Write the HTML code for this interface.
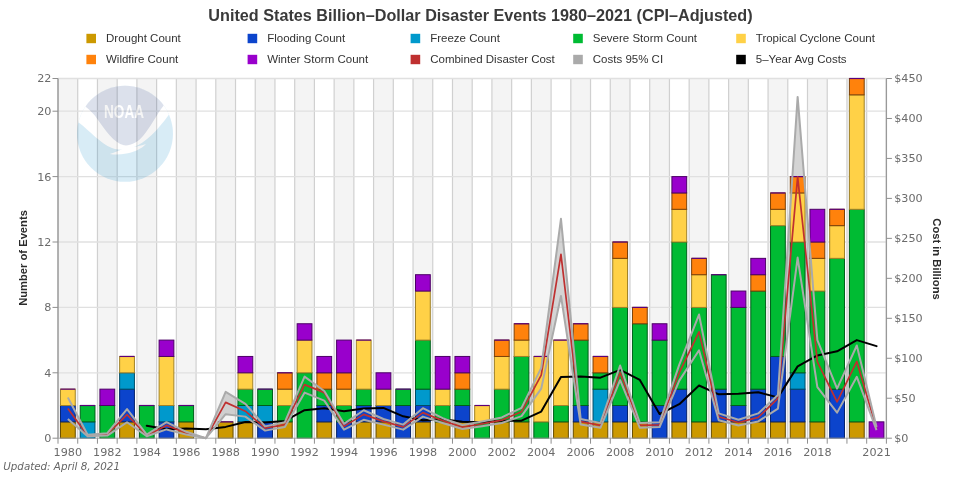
<!DOCTYPE html>
<html lang="en"><head><meta charset="utf-8"><title>United States Billion-Dollar Disaster Events 1980-2021 (CPI-Adjusted)</title>
<style>html,body{margin:0;padding:0;background:#fff;}body{width:960px;height:480px;overflow:hidden;}svg{display:block;filter:blur(0.3px);}text{font-family:"Liberation Sans","DejaVu Sans",sans-serif;}.tk text{font-family:"DejaVu Sans","Liberation Sans",sans-serif;font-size:11.2px;fill:#6b6b6b;}.lg text{font-size:11.5px;fill:#333;}.ax{font-size:11.2px;font-weight:bold;fill:#2b2b2b;}.tt{font-size:16.2px;font-weight:bold;fill:#3a3a3a;}</style></head><body>
<svg width="960" height="480" viewBox="0 0 960 480">
<rect x="0" y="0" width="960" height="480" fill="#ffffff"/>
<g id="bands">
<rect x="58" y="78.5" width="19.72" height="359.7" fill="#f4f4f4"/>
<rect x="97.45" y="78.5" width="19.72" height="359.7" fill="#f4f4f4"/>
<rect x="136.9" y="78.5" width="19.72" height="359.7" fill="#f4f4f4"/>
<rect x="176.34" y="78.5" width="19.72" height="359.7" fill="#f4f4f4"/>
<rect x="215.79" y="78.5" width="19.72" height="359.7" fill="#f4f4f4"/>
<rect x="255.24" y="78.5" width="19.72" height="359.7" fill="#f4f4f4"/>
<rect x="294.69" y="78.5" width="19.72" height="359.7" fill="#f4f4f4"/>
<rect x="334.13" y="78.5" width="19.72" height="359.7" fill="#f4f4f4"/>
<rect x="373.58" y="78.5" width="19.72" height="359.7" fill="#f4f4f4"/>
<rect x="413.03" y="78.5" width="19.72" height="359.7" fill="#f4f4f4"/>
<rect x="452.48" y="78.5" width="19.72" height="359.7" fill="#f4f4f4"/>
<rect x="491.92" y="78.5" width="19.72" height="359.7" fill="#f4f4f4"/>
<rect x="531.37" y="78.5" width="19.72" height="359.7" fill="#f4f4f4"/>
<rect x="570.82" y="78.5" width="19.72" height="359.7" fill="#f4f4f4"/>
<rect x="610.27" y="78.5" width="19.72" height="359.7" fill="#f4f4f4"/>
<rect x="649.71" y="78.5" width="19.72" height="359.7" fill="#f4f4f4"/>
<rect x="689.16" y="78.5" width="19.72" height="359.7" fill="#f4f4f4"/>
<rect x="728.61" y="78.5" width="19.72" height="359.7" fill="#f4f4f4"/>
<rect x="768.06" y="78.5" width="19.72" height="359.7" fill="#f4f4f4"/>
<rect x="807.5" y="78.5" width="19.72" height="359.7" fill="#f4f4f4"/>
<rect x="846.95" y="78.5" width="19.72" height="359.7" fill="#f4f4f4"/>
</g>
<g id="gridv" stroke="#d0d0d0" stroke-width="1.2" fill="none">
<line x1="77.72" y1="78.5" x2="77.72" y2="438.2"/>
<line x1="97.45" y1="78.5" x2="97.45" y2="438.2"/>
<line x1="117.17" y1="78.5" x2="117.17" y2="438.2"/>
<line x1="136.9" y1="78.5" x2="136.9" y2="438.2"/>
<line x1="156.62" y1="78.5" x2="156.62" y2="438.2"/>
<line x1="176.34" y1="78.5" x2="176.34" y2="438.2"/>
<line x1="196.07" y1="78.5" x2="196.07" y2="438.2"/>
<line x1="215.79" y1="78.5" x2="215.79" y2="438.2"/>
<line x1="235.51" y1="78.5" x2="235.51" y2="438.2"/>
<line x1="255.24" y1="78.5" x2="255.24" y2="438.2"/>
<line x1="274.96" y1="78.5" x2="274.96" y2="438.2"/>
<line x1="294.69" y1="78.5" x2="294.69" y2="438.2"/>
<line x1="314.41" y1="78.5" x2="314.41" y2="438.2"/>
<line x1="334.13" y1="78.5" x2="334.13" y2="438.2"/>
<line x1="353.86" y1="78.5" x2="353.86" y2="438.2"/>
<line x1="373.58" y1="78.5" x2="373.58" y2="438.2"/>
<line x1="393.3" y1="78.5" x2="393.3" y2="438.2"/>
<line x1="413.03" y1="78.5" x2="413.03" y2="438.2"/>
<line x1="432.75" y1="78.5" x2="432.75" y2="438.2"/>
<line x1="452.48" y1="78.5" x2="452.48" y2="438.2"/>
<line x1="472.2" y1="78.5" x2="472.2" y2="438.2"/>
<line x1="491.92" y1="78.5" x2="491.92" y2="438.2"/>
<line x1="511.65" y1="78.5" x2="511.65" y2="438.2"/>
<line x1="531.37" y1="78.5" x2="531.37" y2="438.2"/>
<line x1="551.1" y1="78.5" x2="551.1" y2="438.2"/>
<line x1="570.82" y1="78.5" x2="570.82" y2="438.2"/>
<line x1="590.54" y1="78.5" x2="590.54" y2="438.2"/>
<line x1="610.27" y1="78.5" x2="610.27" y2="438.2"/>
<line x1="629.99" y1="78.5" x2="629.99" y2="438.2"/>
<line x1="649.71" y1="78.5" x2="649.71" y2="438.2"/>
<line x1="669.44" y1="78.5" x2="669.44" y2="438.2"/>
<line x1="689.16" y1="78.5" x2="689.16" y2="438.2"/>
<line x1="708.89" y1="78.5" x2="708.89" y2="438.2"/>
<line x1="728.61" y1="78.5" x2="728.61" y2="438.2"/>
<line x1="748.33" y1="78.5" x2="748.33" y2="438.2"/>
<line x1="768.06" y1="78.5" x2="768.06" y2="438.2"/>
<line x1="787.78" y1="78.5" x2="787.78" y2="438.2"/>
<line x1="807.5" y1="78.5" x2="807.5" y2="438.2"/>
<line x1="827.23" y1="78.5" x2="827.23" y2="438.2"/>
<line x1="846.95" y1="78.5" x2="846.95" y2="438.2"/>
<line x1="866.68" y1="78.5" x2="866.68" y2="438.2"/>
<line x1="886.4" y1="78.5" x2="886.4" y2="438.2"/>
</g>
<g id="gridh" stroke="#e0e0e0" stroke-width="1.3" fill="none">
<line x1="58" y1="372.8" x2="886.4" y2="372.8"/>
<line x1="58" y1="307.4" x2="886.4" y2="307.4"/>
<line x1="58" y1="242" x2="886.4" y2="242"/>
<line x1="58" y1="176.6" x2="886.4" y2="176.6"/>
<line x1="58" y1="111.2" x2="886.4" y2="111.2"/>
<line x1="58" y1="78.5" x2="886.4" y2="78.5"/>
</g>
<defs><clipPath id="nc"><circle cx="125" cy="133.8" r="48"/></clipPath></defs>
<g id="noaa" opacity="0.15"><g clip-path="url(#nc)">
<rect x="70" y="80" width="110" height="110" fill="#0085CA"/>
<path d="M60,122.4 L78.7,122.4 C90,131 100,143 112,148 C118,150.5 126,150 133,147.5 C145,143 158,130 169,114.4 L190,114 L190,60 L60,60 Z" fill="#ffffff"/>
<path d="M109.8,153.9 C115,152.6 120,150.6 124.5,147.8 L133,146.9 C138,146.4 142,145.4 146,144 C141.5,149 133.5,152.2 126.5,153.5 C120.5,154.6 114.5,154.7 109.8,153.9 Z" fill="#ffffff"/>
<path d="M86,107 C90,110 94,114 98,120 C105,130 114,143 124,145.3 C130,146 137,143 143,136 C150,128 157,114 163.5,105.7 L190,60 L60,60 Z" fill="#1C3C85"/>
<text x="104" y="117.6" textLength="40" lengthAdjust="spacingAndGlyphs" style="font-size:18px;font-weight:bold;fill:#ffffff;">NOAA</text>
</g></g>
<polygon points="67.86,397.43 87.59,434.84 107.31,433.24 127.03,409.02 146.76,434.52 166.48,422.21 186.2,431.81 205.93,438.2 225.65,391.84 245.38,403.83 265.1,426.37 284.82,422.21 304.55,376.65 324.27,391.04 344,423.81 363.72,410.22 383.44,419.02 403.17,424.61 422.89,408.15 442.61,418.22 462.34,425.01 482.06,421.41 501.79,417.42 521.51,407.83 541.23,367.86 560.96,218.78 580.68,419.02 600.4,423.01 620.13,365.46 639.85,423.01 659.58,422.21 679.3,364.66 699.02,314.54 718.75,413.42 738.47,419.82 758.2,413.42 777.92,395.04 797.64,96.88 817.37,340.2 837.09,388.64 856.81,345.48 876.54,427.01 876.54,430.21 856.81,376.81 837.09,412.62 817.37,387.04 797.64,257.55 777.92,408.62 758.2,421.41 738.47,425.41 718.75,420.21 699.02,350.27 679.3,380.65 659.58,427.01 639.85,427.81 620.13,380.17 600.4,427.81 580.68,424.61 560.96,295.92 541.23,388.64 521.51,416.14 501.79,423.01 482.06,426.21 462.34,429.01 442.61,423.01 422.89,416.62 403.17,429.65 383.44,424.61 363.72,419.82 344,429.65 324.27,400.63 304.55,392.64 284.82,427.01 265.1,430.61 245.38,416.62 225.65,414.22 205.93,438.2 186.2,434.6 166.48,429.41 146.76,436.28 127.03,422.21 107.31,435.56 87.59,436.36 67.86,419.02" fill="#aaaaaa" fill-opacity="0.5" stroke="none"/>
<g id="bars" stroke-width="1">
<rect x="60.47" y="421.85" width="14.78" height="16.35" fill="#CC9900" stroke="#664c00"/>
<rect x="60.47" y="405.5" width="14.78" height="16.35" fill="#0C44CC" stroke="#06226a"/>
<rect x="60.47" y="389.15" width="14.78" height="16.35" fill="#FFD147" stroke="#a08228"/>
<line x1="60.47" y1="389.15" x2="75.25" y2="389.15" stroke="#5c007a" stroke-width="1.2"/>
<rect x="80.2" y="421.85" width="14.78" height="16.35" fill="#0099CC" stroke="#004c66"/>
<rect x="80.2" y="405.5" width="14.78" height="16.35" fill="#00BB33" stroke="#005e1a"/>
<line x1="80.2" y1="405.5" x2="94.98" y2="405.5" stroke="#5c007a" stroke-width="1.2"/>
<rect x="99.92" y="405.5" width="14.78" height="32.7" fill="#00BB33" stroke="#005e1a"/>
<rect x="99.92" y="389.15" width="14.78" height="16.35" fill="#9900CC" stroke="#4c0066"/>
<rect x="119.64" y="421.85" width="14.78" height="16.35" fill="#CC9900" stroke="#664c00"/>
<rect x="119.64" y="389.15" width="14.78" height="32.7" fill="#0C44CC" stroke="#06226a"/>
<rect x="119.64" y="372.8" width="14.78" height="16.35" fill="#0099CC" stroke="#004c66"/>
<rect x="119.64" y="356.45" width="14.78" height="16.35" fill="#FFD147" stroke="#a08228"/>
<line x1="119.64" y1="356.45" x2="134.42" y2="356.45" stroke="#5c007a" stroke-width="1.2"/>
<rect x="139.37" y="405.5" width="14.78" height="32.7" fill="#00BB33" stroke="#005e1a"/>
<line x1="139.37" y1="405.5" x2="154.15" y2="405.5" stroke="#5c007a" stroke-width="1.2"/>
<rect x="159.09" y="421.85" width="14.78" height="16.35" fill="#0C44CC" stroke="#06226a"/>
<rect x="159.09" y="405.5" width="14.78" height="16.35" fill="#0099CC" stroke="#004c66"/>
<rect x="159.09" y="356.45" width="14.78" height="49.05" fill="#FFD147" stroke="#a08228"/>
<rect x="159.09" y="340.1" width="14.78" height="16.35" fill="#9900CC" stroke="#4c0066"/>
<rect x="178.82" y="421.85" width="14.78" height="16.35" fill="#CC9900" stroke="#664c00"/>
<rect x="178.82" y="405.5" width="14.78" height="16.35" fill="#00BB33" stroke="#005e1a"/>
<line x1="178.82" y1="405.5" x2="193.59" y2="405.5" stroke="#5c007a" stroke-width="1.2"/>
<rect x="218.26" y="421.85" width="14.78" height="16.35" fill="#CC9900" stroke="#664c00"/>
<line x1="218.26" y1="421.85" x2="233.04" y2="421.85" stroke="#5c007a" stroke-width="1.2"/>
<rect x="237.99" y="421.85" width="14.78" height="16.35" fill="#CC9900" stroke="#664c00"/>
<rect x="237.99" y="405.5" width="14.78" height="16.35" fill="#0099CC" stroke="#004c66"/>
<rect x="237.99" y="389.15" width="14.78" height="16.35" fill="#00BB33" stroke="#005e1a"/>
<rect x="237.99" y="372.8" width="14.78" height="16.35" fill="#FFD147" stroke="#a08228"/>
<rect x="237.99" y="356.45" width="14.78" height="16.35" fill="#9900CC" stroke="#4c0066"/>
<rect x="257.71" y="421.85" width="14.78" height="16.35" fill="#0C44CC" stroke="#06226a"/>
<rect x="257.71" y="405.5" width="14.78" height="16.35" fill="#0099CC" stroke="#004c66"/>
<rect x="257.71" y="389.15" width="14.78" height="16.35" fill="#00BB33" stroke="#005e1a"/>
<line x1="257.71" y1="389.15" x2="272.49" y2="389.15" stroke="#5c007a" stroke-width="1.2"/>
<rect x="277.43" y="421.85" width="14.78" height="16.35" fill="#CC9900" stroke="#664c00"/>
<rect x="277.43" y="405.5" width="14.78" height="16.35" fill="#00BB33" stroke="#005e1a"/>
<rect x="277.43" y="389.15" width="14.78" height="16.35" fill="#FFD147" stroke="#a08228"/>
<rect x="277.43" y="372.8" width="14.78" height="16.35" fill="#FF820C" stroke="#7a4008"/>
<line x1="277.43" y1="372.8" x2="292.21" y2="372.8" stroke="#5c007a" stroke-width="1.2"/>
<rect x="297.16" y="372.8" width="14.78" height="65.4" fill="#00BB33" stroke="#005e1a"/>
<rect x="297.16" y="340.1" width="14.78" height="32.7" fill="#FFD147" stroke="#a08228"/>
<rect x="297.16" y="323.75" width="14.78" height="16.35" fill="#9900CC" stroke="#4c0066"/>
<rect x="316.88" y="421.85" width="14.78" height="16.35" fill="#CC9900" stroke="#664c00"/>
<rect x="316.88" y="405.5" width="14.78" height="16.35" fill="#0C44CC" stroke="#06226a"/>
<rect x="316.88" y="389.15" width="14.78" height="16.35" fill="#00BB33" stroke="#005e1a"/>
<rect x="316.88" y="372.8" width="14.78" height="16.35" fill="#FF820C" stroke="#7a4008"/>
<rect x="316.88" y="356.45" width="14.78" height="16.35" fill="#9900CC" stroke="#4c0066"/>
<rect x="336.61" y="421.85" width="14.78" height="16.35" fill="#0C44CC" stroke="#06226a"/>
<rect x="336.61" y="405.5" width="14.78" height="16.35" fill="#00BB33" stroke="#005e1a"/>
<rect x="336.61" y="389.15" width="14.78" height="16.35" fill="#FFD147" stroke="#a08228"/>
<rect x="336.61" y="372.8" width="14.78" height="16.35" fill="#FF820C" stroke="#7a4008"/>
<rect x="336.61" y="340.1" width="14.78" height="32.7" fill="#9900CC" stroke="#4c0066"/>
<rect x="356.33" y="421.85" width="14.78" height="16.35" fill="#CC9900" stroke="#664c00"/>
<rect x="356.33" y="405.5" width="14.78" height="16.35" fill="#0C44CC" stroke="#06226a"/>
<rect x="356.33" y="389.15" width="14.78" height="16.35" fill="#00BB33" stroke="#005e1a"/>
<rect x="356.33" y="340.1" width="14.78" height="49.05" fill="#FFD147" stroke="#a08228"/>
<line x1="356.33" y1="340.1" x2="371.11" y2="340.1" stroke="#5c007a" stroke-width="1.2"/>
<rect x="376.05" y="421.85" width="14.78" height="16.35" fill="#CC9900" stroke="#664c00"/>
<rect x="376.05" y="405.5" width="14.78" height="16.35" fill="#0C44CC" stroke="#06226a"/>
<rect x="376.05" y="389.15" width="14.78" height="16.35" fill="#FFD147" stroke="#a08228"/>
<rect x="376.05" y="372.8" width="14.78" height="16.35" fill="#9900CC" stroke="#4c0066"/>
<rect x="395.78" y="405.5" width="14.78" height="32.7" fill="#0C44CC" stroke="#06226a"/>
<rect x="395.78" y="389.15" width="14.78" height="16.35" fill="#00BB33" stroke="#005e1a"/>
<line x1="395.78" y1="389.15" x2="410.56" y2="389.15" stroke="#5c007a" stroke-width="1.2"/>
<rect x="415.5" y="421.85" width="14.78" height="16.35" fill="#CC9900" stroke="#664c00"/>
<rect x="415.5" y="405.5" width="14.78" height="16.35" fill="#0C44CC" stroke="#06226a"/>
<rect x="415.5" y="389.15" width="14.78" height="16.35" fill="#0099CC" stroke="#004c66"/>
<rect x="415.5" y="340.1" width="14.78" height="49.05" fill="#00BB33" stroke="#005e1a"/>
<rect x="415.5" y="291.05" width="14.78" height="49.05" fill="#FFD147" stroke="#a08228"/>
<rect x="415.5" y="274.7" width="14.78" height="16.35" fill="#9900CC" stroke="#4c0066"/>
<rect x="435.22" y="421.85" width="14.78" height="16.35" fill="#CC9900" stroke="#664c00"/>
<rect x="435.22" y="405.5" width="14.78" height="16.35" fill="#00BB33" stroke="#005e1a"/>
<rect x="435.22" y="389.15" width="14.78" height="16.35" fill="#FFD147" stroke="#a08228"/>
<rect x="435.22" y="356.45" width="14.78" height="32.7" fill="#9900CC" stroke="#4c0066"/>
<rect x="454.95" y="421.85" width="14.78" height="16.35" fill="#CC9900" stroke="#664c00"/>
<rect x="454.95" y="405.5" width="14.78" height="16.35" fill="#0C44CC" stroke="#06226a"/>
<rect x="454.95" y="389.15" width="14.78" height="16.35" fill="#00BB33" stroke="#005e1a"/>
<rect x="454.95" y="372.8" width="14.78" height="16.35" fill="#FF820C" stroke="#7a4008"/>
<rect x="454.95" y="356.45" width="14.78" height="16.35" fill="#9900CC" stroke="#4c0066"/>
<rect x="474.67" y="421.85" width="14.78" height="16.35" fill="#00BB33" stroke="#005e1a"/>
<rect x="474.67" y="405.5" width="14.78" height="16.35" fill="#FFD147" stroke="#a08228"/>
<line x1="474.67" y1="405.5" x2="489.45" y2="405.5" stroke="#5c007a" stroke-width="1.2"/>
<rect x="494.4" y="421.85" width="14.78" height="16.35" fill="#CC9900" stroke="#664c00"/>
<rect x="494.4" y="389.15" width="14.78" height="32.7" fill="#00BB33" stroke="#005e1a"/>
<rect x="494.4" y="356.45" width="14.78" height="32.7" fill="#FFD147" stroke="#a08228"/>
<rect x="494.4" y="340.1" width="14.78" height="16.35" fill="#FF820C" stroke="#7a4008"/>
<line x1="494.4" y1="340.1" x2="509.18" y2="340.1" stroke="#5c007a" stroke-width="1.2"/>
<rect x="514.12" y="421.85" width="14.78" height="16.35" fill="#CC9900" stroke="#664c00"/>
<rect x="514.12" y="356.45" width="14.78" height="65.4" fill="#00BB33" stroke="#005e1a"/>
<rect x="514.12" y="340.1" width="14.78" height="16.35" fill="#FFD147" stroke="#a08228"/>
<rect x="514.12" y="323.75" width="14.78" height="16.35" fill="#FF820C" stroke="#7a4008"/>
<line x1="514.12" y1="323.75" x2="528.9" y2="323.75" stroke="#5c007a" stroke-width="1.2"/>
<rect x="533.84" y="421.85" width="14.78" height="16.35" fill="#00BB33" stroke="#005e1a"/>
<rect x="533.84" y="356.45" width="14.78" height="65.4" fill="#FFD147" stroke="#a08228"/>
<line x1="533.84" y1="356.45" x2="548.62" y2="356.45" stroke="#5c007a" stroke-width="1.2"/>
<rect x="553.57" y="421.85" width="14.78" height="16.35" fill="#CC9900" stroke="#664c00"/>
<rect x="553.57" y="405.5" width="14.78" height="16.35" fill="#00BB33" stroke="#005e1a"/>
<rect x="553.57" y="340.1" width="14.78" height="65.4" fill="#FFD147" stroke="#a08228"/>
<line x1="553.57" y1="340.1" x2="568.35" y2="340.1" stroke="#5c007a" stroke-width="1.2"/>
<rect x="573.29" y="421.85" width="14.78" height="16.35" fill="#CC9900" stroke="#664c00"/>
<rect x="573.29" y="405.5" width="14.78" height="16.35" fill="#0C44CC" stroke="#06226a"/>
<rect x="573.29" y="340.1" width="14.78" height="65.4" fill="#00BB33" stroke="#005e1a"/>
<rect x="573.29" y="323.75" width="14.78" height="16.35" fill="#FF820C" stroke="#7a4008"/>
<line x1="573.29" y1="323.75" x2="588.07" y2="323.75" stroke="#5c007a" stroke-width="1.2"/>
<rect x="593.02" y="421.85" width="14.78" height="16.35" fill="#CC9900" stroke="#664c00"/>
<rect x="593.02" y="389.15" width="14.78" height="32.7" fill="#0099CC" stroke="#004c66"/>
<rect x="593.02" y="372.8" width="14.78" height="16.35" fill="#00BB33" stroke="#005e1a"/>
<rect x="593.02" y="356.45" width="14.78" height="16.35" fill="#FF820C" stroke="#7a4008"/>
<line x1="593.02" y1="356.45" x2="607.79" y2="356.45" stroke="#5c007a" stroke-width="1.2"/>
<rect x="612.74" y="421.85" width="14.78" height="16.35" fill="#CC9900" stroke="#664c00"/>
<rect x="612.74" y="405.5" width="14.78" height="16.35" fill="#0C44CC" stroke="#06226a"/>
<rect x="612.74" y="307.4" width="14.78" height="98.1" fill="#00BB33" stroke="#005e1a"/>
<rect x="612.74" y="258.35" width="14.78" height="49.05" fill="#FFD147" stroke="#a08228"/>
<rect x="612.74" y="242" width="14.78" height="16.35" fill="#FF820C" stroke="#7a4008"/>
<line x1="612.74" y1="242" x2="627.52" y2="242" stroke="#5c007a" stroke-width="1.2"/>
<rect x="632.46" y="421.85" width="14.78" height="16.35" fill="#CC9900" stroke="#664c00"/>
<rect x="632.46" y="323.75" width="14.78" height="98.1" fill="#00BB33" stroke="#005e1a"/>
<rect x="632.46" y="307.4" width="14.78" height="16.35" fill="#FF820C" stroke="#7a4008"/>
<line x1="632.46" y1="307.4" x2="647.24" y2="307.4" stroke="#5c007a" stroke-width="1.2"/>
<rect x="652.19" y="405.5" width="14.78" height="32.7" fill="#0C44CC" stroke="#06226a"/>
<rect x="652.19" y="340.1" width="14.78" height="65.4" fill="#00BB33" stroke="#005e1a"/>
<rect x="652.19" y="323.75" width="14.78" height="16.35" fill="#9900CC" stroke="#4c0066"/>
<rect x="671.91" y="421.85" width="14.78" height="16.35" fill="#CC9900" stroke="#664c00"/>
<rect x="671.91" y="389.15" width="14.78" height="32.7" fill="#0C44CC" stroke="#06226a"/>
<rect x="671.91" y="242" width="14.78" height="147.15" fill="#00BB33" stroke="#005e1a"/>
<rect x="671.91" y="209.3" width="14.78" height="32.7" fill="#FFD147" stroke="#a08228"/>
<rect x="671.91" y="192.95" width="14.78" height="16.35" fill="#FF820C" stroke="#7a4008"/>
<rect x="671.91" y="176.6" width="14.78" height="16.35" fill="#9900CC" stroke="#4c0066"/>
<rect x="691.63" y="421.85" width="14.78" height="16.35" fill="#CC9900" stroke="#664c00"/>
<rect x="691.63" y="307.4" width="14.78" height="114.45" fill="#00BB33" stroke="#005e1a"/>
<rect x="691.63" y="274.7" width="14.78" height="32.7" fill="#FFD147" stroke="#a08228"/>
<rect x="691.63" y="258.35" width="14.78" height="16.35" fill="#FF820C" stroke="#7a4008"/>
<line x1="691.63" y1="258.35" x2="706.41" y2="258.35" stroke="#5c007a" stroke-width="1.2"/>
<rect x="711.36" y="421.85" width="14.78" height="16.35" fill="#CC9900" stroke="#664c00"/>
<rect x="711.36" y="389.15" width="14.78" height="32.7" fill="#0C44CC" stroke="#06226a"/>
<rect x="711.36" y="274.7" width="14.78" height="114.45" fill="#00BB33" stroke="#005e1a"/>
<line x1="711.36" y1="274.7" x2="726.14" y2="274.7" stroke="#5c007a" stroke-width="1.2"/>
<rect x="731.08" y="421.85" width="14.78" height="16.35" fill="#CC9900" stroke="#664c00"/>
<rect x="731.08" y="405.5" width="14.78" height="16.35" fill="#0C44CC" stroke="#06226a"/>
<rect x="731.08" y="307.4" width="14.78" height="98.1" fill="#00BB33" stroke="#005e1a"/>
<rect x="731.08" y="291.05" width="14.78" height="16.35" fill="#9900CC" stroke="#4c0066"/>
<rect x="750.81" y="421.85" width="14.78" height="16.35" fill="#CC9900" stroke="#664c00"/>
<rect x="750.81" y="389.15" width="14.78" height="32.7" fill="#0C44CC" stroke="#06226a"/>
<rect x="750.81" y="291.05" width="14.78" height="98.1" fill="#00BB33" stroke="#005e1a"/>
<rect x="750.81" y="274.7" width="14.78" height="16.35" fill="#FF820C" stroke="#7a4008"/>
<rect x="750.81" y="258.35" width="14.78" height="16.35" fill="#9900CC" stroke="#4c0066"/>
<rect x="770.53" y="421.85" width="14.78" height="16.35" fill="#CC9900" stroke="#664c00"/>
<rect x="770.53" y="356.45" width="14.78" height="65.4" fill="#0C44CC" stroke="#06226a"/>
<rect x="770.53" y="225.65" width="14.78" height="130.8" fill="#00BB33" stroke="#005e1a"/>
<rect x="770.53" y="209.3" width="14.78" height="16.35" fill="#FFD147" stroke="#a08228"/>
<rect x="770.53" y="192.95" width="14.78" height="16.35" fill="#FF820C" stroke="#7a4008"/>
<line x1="770.53" y1="192.95" x2="785.31" y2="192.95" stroke="#5c007a" stroke-width="1.2"/>
<rect x="790.25" y="421.85" width="14.78" height="16.35" fill="#CC9900" stroke="#664c00"/>
<rect x="790.25" y="389.15" width="14.78" height="32.7" fill="#0C44CC" stroke="#06226a"/>
<rect x="790.25" y="372.8" width="14.78" height="16.35" fill="#0099CC" stroke="#004c66"/>
<rect x="790.25" y="242" width="14.78" height="130.8" fill="#00BB33" stroke="#005e1a"/>
<rect x="790.25" y="192.95" width="14.78" height="49.05" fill="#FFD147" stroke="#a08228"/>
<rect x="790.25" y="176.6" width="14.78" height="16.35" fill="#FF820C" stroke="#7a4008"/>
<line x1="790.25" y1="176.6" x2="805.03" y2="176.6" stroke="#5c007a" stroke-width="1.2"/>
<rect x="809.98" y="421.85" width="14.78" height="16.35" fill="#CC9900" stroke="#664c00"/>
<rect x="809.98" y="291.05" width="14.78" height="130.8" fill="#00BB33" stroke="#005e1a"/>
<rect x="809.98" y="258.35" width="14.78" height="32.7" fill="#FFD147" stroke="#a08228"/>
<rect x="809.98" y="242" width="14.78" height="16.35" fill="#FF820C" stroke="#7a4008"/>
<rect x="809.98" y="209.3" width="14.78" height="32.7" fill="#9900CC" stroke="#4c0066"/>
<rect x="829.7" y="389.15" width="14.78" height="49.05" fill="#0C44CC" stroke="#06226a"/>
<rect x="829.7" y="258.35" width="14.78" height="130.8" fill="#00BB33" stroke="#005e1a"/>
<rect x="829.7" y="225.65" width="14.78" height="32.7" fill="#FFD147" stroke="#a08228"/>
<rect x="829.7" y="209.3" width="14.78" height="16.35" fill="#FF820C" stroke="#7a4008"/>
<line x1="829.7" y1="209.3" x2="844.48" y2="209.3" stroke="#5c007a" stroke-width="1.2"/>
<rect x="849.42" y="421.85" width="14.78" height="16.35" fill="#CC9900" stroke="#664c00"/>
<rect x="849.42" y="209.3" width="14.78" height="212.55" fill="#00BB33" stroke="#005e1a"/>
<rect x="849.42" y="94.85" width="14.78" height="114.45" fill="#FFD147" stroke="#a08228"/>
<rect x="849.42" y="78.5" width="14.78" height="16.35" fill="#FF820C" stroke="#7a4008"/>
<line x1="849.42" y1="78.5" x2="864.2" y2="78.5" stroke="#5c007a" stroke-width="1.2"/>
<rect x="869.15" y="421.85" width="14.78" height="16.35" fill="#9900CC" stroke="#4c0066"/>
</g>
<polyline points="146.76,425.78 166.48,429.14 186.2,428.61 205.93,429.36 225.65,426.9 245.38,422.04 265.1,422.58 284.82,420.9 304.55,410.19 324.27,408.24 344,411.28 363.72,408.53 383.44,407.89 403.17,416.33 422.89,420.33 442.61,419.18 462.34,421.72 482.06,422.2 501.79,420.85 521.51,420.69 541.23,411.58 560.96,377.04 580.68,376.6 600.4,377.66 620.13,369.83 639.85,379.9 659.58,414 679.3,404.2 699.02,385.49 718.75,394.32 738.47,393.73 758.2,392.24 777.92,397.4 797.64,366.39 817.37,355.41 837.09,351.28 856.81,340.09 876.54,346.12" fill="none" stroke="#000000" stroke-width="2.0" stroke-linejoin="round" stroke-linecap="round"/>
<polyline points="67.86,408.62 87.59,435.64 107.31,434.44 127.03,414.7 146.76,435.48 166.48,425.41 186.2,433 205.93,438.2 225.65,402.39 245.38,411.18 265.1,428.13 284.82,424.61 304.55,384.64 324.27,392.64 344,426.37 363.72,414.38 383.44,421.41 403.17,426.85 422.89,412.62 442.61,420.61 462.34,427.09 482.06,423.81 501.79,420.14 521.51,411.82 541.23,375.05 560.96,254.35 580.68,421.65 600.4,425.41 620.13,372.65 639.85,425.41 659.58,424.85 679.3,372.65 699.02,331.89 718.75,416.78 738.47,422.45 758.2,417.42 777.92,398.47 797.64,176.82 817.37,361.86 837.09,401.83 856.81,361.46 876.54,428.61" fill="none" stroke="#bf3030" stroke-width="1.7" stroke-linejoin="round"/>
<polyline points="67.86,397.43 87.59,434.84 107.31,433.24 127.03,409.02 146.76,434.52 166.48,422.21 186.2,431.81 205.93,438.2 225.65,391.84 245.38,403.83 265.1,426.37 284.82,422.21 304.55,376.65 324.27,391.04 344,423.81 363.72,410.22 383.44,419.02 403.17,424.61 422.89,408.15 442.61,418.22 462.34,425.01 482.06,421.41 501.79,417.42 521.51,407.83 541.23,367.86 560.96,218.78 580.68,419.02 600.4,423.01 620.13,365.46 639.85,423.01 659.58,422.21 679.3,364.66 699.02,314.54 718.75,413.42 738.47,419.82 758.2,413.42 777.92,395.04 797.64,96.88 817.37,340.2 837.09,388.64 856.81,345.48 876.54,427.01" fill="none" stroke="#aaaaaa" stroke-width="2" stroke-linejoin="round"/>
<polyline points="67.86,419.02 87.59,436.36 107.31,435.56 127.03,422.21 146.76,436.28 166.48,429.41 186.2,434.6 205.93,438.2 225.65,414.22 245.38,416.62 265.1,430.61 284.82,427.01 304.55,392.64 324.27,400.63 344,429.65 363.72,419.82 383.44,424.61 403.17,429.65 422.89,416.62 442.61,423.01 462.34,429.01 482.06,426.21 501.79,423.01 521.51,416.14 541.23,388.64 560.96,295.92 580.68,424.61 600.4,427.81 620.13,380.17 639.85,427.81 659.58,427.01 679.3,380.65 699.02,350.27 718.75,420.21 738.47,425.41 758.2,421.41 777.92,408.62 797.64,257.55 817.37,387.04 837.09,412.62 856.81,376.81 876.54,430.21" fill="none" stroke="#aaaaaa" stroke-width="2" stroke-linejoin="round"/>
<g id="axes" stroke="#8f8f8f" stroke-width="1.0" fill="none">
<line x1="58" y1="78.5" x2="58" y2="438.2" stroke-width="1.5" stroke="#999"/>
<line x1="886.4" y1="78.5" x2="886.4" y2="438.2" stroke-width="1.3" stroke="#999"/>
<line x1="58" y1="438.2" x2="886.4" y2="438.2" stroke="#a8a8a8"/>
<line x1="52.5" y1="438.2" x2="58" y2="438.2"/>
<line x1="52.5" y1="372.8" x2="58" y2="372.8"/>
<line x1="52.5" y1="307.4" x2="58" y2="307.4"/>
<line x1="52.5" y1="242" x2="58" y2="242"/>
<line x1="52.5" y1="176.6" x2="58" y2="176.6"/>
<line x1="52.5" y1="111.2" x2="58" y2="111.2"/>
<line x1="52.5" y1="78.5" x2="58" y2="78.5"/>
<line x1="886.4" y1="438.2" x2="891.9" y2="438.2"/>
<line x1="886.4" y1="398.23" x2="891.9" y2="398.23"/>
<line x1="886.4" y1="358.27" x2="891.9" y2="358.27"/>
<line x1="886.4" y1="318.3" x2="891.9" y2="318.3"/>
<line x1="886.4" y1="278.33" x2="891.9" y2="278.33"/>
<line x1="886.4" y1="238.37" x2="891.9" y2="238.37"/>
<line x1="886.4" y1="198.4" x2="891.9" y2="198.4"/>
<line x1="886.4" y1="158.43" x2="891.9" y2="158.43"/>
<line x1="886.4" y1="118.47" x2="891.9" y2="118.47"/>
<line x1="886.4" y1="78.5" x2="891.9" y2="78.5"/>
<line x1="58" y1="438.2" x2="58" y2="443.7"/>
<line x1="77.72" y1="438.2" x2="77.72" y2="443.7"/>
<line x1="97.45" y1="438.2" x2="97.45" y2="443.7"/>
<line x1="117.17" y1="438.2" x2="117.17" y2="443.7"/>
<line x1="136.9" y1="438.2" x2="136.9" y2="443.7"/>
<line x1="156.62" y1="438.2" x2="156.62" y2="443.7"/>
<line x1="176.34" y1="438.2" x2="176.34" y2="443.7"/>
<line x1="196.07" y1="438.2" x2="196.07" y2="443.7"/>
<line x1="215.79" y1="438.2" x2="215.79" y2="443.7"/>
<line x1="235.51" y1="438.2" x2="235.51" y2="443.7"/>
<line x1="255.24" y1="438.2" x2="255.24" y2="443.7"/>
<line x1="274.96" y1="438.2" x2="274.96" y2="443.7"/>
<line x1="294.69" y1="438.2" x2="294.69" y2="443.7"/>
<line x1="314.41" y1="438.2" x2="314.41" y2="443.7"/>
<line x1="334.13" y1="438.2" x2="334.13" y2="443.7"/>
<line x1="353.86" y1="438.2" x2="353.86" y2="443.7"/>
<line x1="373.58" y1="438.2" x2="373.58" y2="443.7"/>
<line x1="393.3" y1="438.2" x2="393.3" y2="443.7"/>
<line x1="413.03" y1="438.2" x2="413.03" y2="443.7"/>
<line x1="432.75" y1="438.2" x2="432.75" y2="443.7"/>
<line x1="452.48" y1="438.2" x2="452.48" y2="443.7"/>
<line x1="472.2" y1="438.2" x2="472.2" y2="443.7"/>
<line x1="491.92" y1="438.2" x2="491.92" y2="443.7"/>
<line x1="511.65" y1="438.2" x2="511.65" y2="443.7"/>
<line x1="531.37" y1="438.2" x2="531.37" y2="443.7"/>
<line x1="551.1" y1="438.2" x2="551.1" y2="443.7"/>
<line x1="570.82" y1="438.2" x2="570.82" y2="443.7"/>
<line x1="590.54" y1="438.2" x2="590.54" y2="443.7"/>
<line x1="610.27" y1="438.2" x2="610.27" y2="443.7"/>
<line x1="629.99" y1="438.2" x2="629.99" y2="443.7"/>
<line x1="649.71" y1="438.2" x2="649.71" y2="443.7"/>
<line x1="669.44" y1="438.2" x2="669.44" y2="443.7"/>
<line x1="689.16" y1="438.2" x2="689.16" y2="443.7"/>
<line x1="708.89" y1="438.2" x2="708.89" y2="443.7"/>
<line x1="728.61" y1="438.2" x2="728.61" y2="443.7"/>
<line x1="748.33" y1="438.2" x2="748.33" y2="443.7"/>
<line x1="768.06" y1="438.2" x2="768.06" y2="443.7"/>
<line x1="787.78" y1="438.2" x2="787.78" y2="443.7"/>
<line x1="807.5" y1="438.2" x2="807.5" y2="443.7"/>
<line x1="827.23" y1="438.2" x2="827.23" y2="443.7"/>
<line x1="846.95" y1="438.2" x2="846.95" y2="443.7"/>
<line x1="866.68" y1="438.2" x2="866.68" y2="443.7"/>
<line x1="886.4" y1="438.2" x2="886.4" y2="443.7"/>
</g>
<g class="tk">
<text x="51.4" y="442.1" text-anchor="end">0</text>
<text x="51.4" y="376.7" text-anchor="end">4</text>
<text x="51.4" y="311.3" text-anchor="end">8</text>
<text x="51.4" y="245.9" text-anchor="end">12</text>
<text x="51.4" y="180.5" text-anchor="end">16</text>
<text x="51.4" y="115.1" text-anchor="end">20</text>
<text x="51.4" y="82.4" text-anchor="end">22</text>
<text x="894.2" y="442.1">$0</text>
<text x="894.2" y="402.13">$50</text>
<text x="894.2" y="362.17">$100</text>
<text x="894.2" y="322.2">$150</text>
<text x="894.2" y="282.23">$200</text>
<text x="894.2" y="242.27">$250</text>
<text x="894.2" y="202.3">$300</text>
<text x="894.2" y="162.33">$350</text>
<text x="894.2" y="122.37">$400</text>
<text x="894.2" y="82.4">$450</text>
<text x="67.86" y="455.7" text-anchor="middle">1980</text>
<text x="107.31" y="455.7" text-anchor="middle">1982</text>
<text x="146.76" y="455.7" text-anchor="middle">1984</text>
<text x="186.2" y="455.7" text-anchor="middle">1986</text>
<text x="225.65" y="455.7" text-anchor="middle">1988</text>
<text x="265.1" y="455.7" text-anchor="middle">1990</text>
<text x="304.55" y="455.7" text-anchor="middle">1992</text>
<text x="344" y="455.7" text-anchor="middle">1994</text>
<text x="383.44" y="455.7" text-anchor="middle">1996</text>
<text x="422.89" y="455.7" text-anchor="middle">1998</text>
<text x="462.34" y="455.7" text-anchor="middle">2000</text>
<text x="501.79" y="455.7" text-anchor="middle">2002</text>
<text x="541.23" y="455.7" text-anchor="middle">2004</text>
<text x="580.68" y="455.7" text-anchor="middle">2006</text>
<text x="620.13" y="455.7" text-anchor="middle">2008</text>
<text x="659.58" y="455.7" text-anchor="middle">2010</text>
<text x="699.02" y="455.7" text-anchor="middle">2012</text>
<text x="738.47" y="455.7" text-anchor="middle">2014</text>
<text x="777.92" y="455.7" text-anchor="middle">2016</text>
<text x="817.37" y="455.7" text-anchor="middle">2018</text>
<text x="876.54" y="455.7" text-anchor="middle">2021</text>
</g>
<text class="ax" transform="translate(26.9,258) rotate(-90)" text-anchor="middle">Number of Events</text>
<text class="ax" transform="translate(932.6,259) rotate(90)" text-anchor="middle">Cost in Billions</text>
<text class="tt" x="480.5" y="20.7" text-anchor="middle">United States Billion–Dollar Disaster Events 1980–2021 (CPI–Adjusted)</text>
<g class="lg">
<rect x="86.4" y="33.8" width="9.6" height="9.4" fill="#CC9900"/>
<text x="106" y="42.3">Drought Count</text>
<rect x="247.6" y="33.8" width="9.6" height="9.4" fill="#0C44CC"/>
<text x="267.2" y="42.3">Flooding Count</text>
<rect x="410.6" y="33.8" width="9.6" height="9.4" fill="#0099CC"/>
<text x="430.2" y="42.3">Freeze Count</text>
<rect x="573.2" y="33.8" width="9.6" height="9.4" fill="#00BB33"/>
<text x="592.8" y="42.3">Severe Storm Count</text>
<rect x="736.2" y="33.8" width="9.6" height="9.4" fill="#FFD147"/>
<text x="755.8" y="42.3">Tropical Cyclone Count</text>
<rect x="86.4" y="54.8" width="9.6" height="9.4" fill="#FF820C"/>
<text x="106" y="63.3">Wildfire Count</text>
<rect x="247.6" y="54.8" width="9.6" height="9.4" fill="#9900CC"/>
<text x="267.2" y="63.3">Winter Storm Count</text>
<rect x="410.6" y="54.8" width="9.6" height="9.4" fill="#BF3030"/>
<text x="430.2" y="63.3">Combined Disaster Cost</text>
<rect x="573.2" y="54.8" width="9.6" height="9.4" fill="#AAAAAA"/>
<text x="592.8" y="63.3">Costs 95% CI</text>
<rect x="736.2" y="54.8" width="9.6" height="9.4" fill="#000000"/>
<text x="755.8" y="63.3">5–Year Avg Costs</text>
</g>
<text x="3.3" y="470" style="font-family:'DejaVu Sans','Liberation Sans',sans-serif;font-size:10.3px;font-style:italic;fill:#666;">Updated: April 8, 2021</text>
</svg>
</body></html>
